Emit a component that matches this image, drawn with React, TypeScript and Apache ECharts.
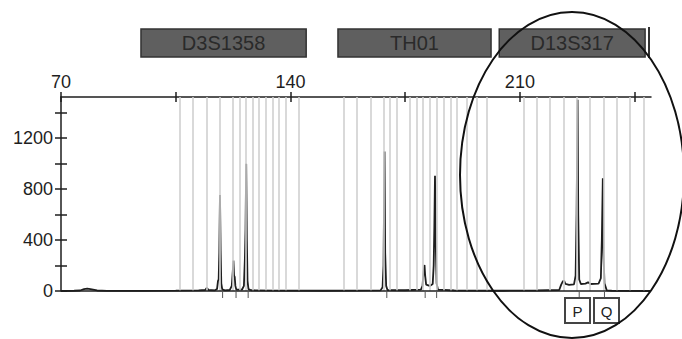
import React, { useEffect, useRef } from "react";
import * as echarts from "echarts";

// ---- data ----
const xTickValues = [70, 105, 140, 175, 210, 245];
const xLabelValues = [70, 140, 210];
const yTickValues = [0, 200, 400, 600, 800, 1000, 1200, 1400];
const yLabelValues = [0, 400, 800, 1200];

// electropherogram trace: [size (bp), signal (RFU)]
const trace: [number, number][] = [
  [70, 0], [74, 2], [75.8, 4], [77, 14], [78, 18], [79, 14], [81, 4], [84, 1],
  [95, 1], [105, 3], [112, 5], [114, 8], [114.5, 25], [115, 8], [117, 5],
  [117.6, 15], [117.9, 80], [118.1, 90], [118.3, 300], [118.5, 753], [118.7, 320], [118.9, 60], [119.2, 12], [120, 5], [121.5, 8],
  [122.1, 40], [122.4, 150], [122.6, 238], [122.8, 120], [123.0, 110], [123.2, 40], [123.5, 10], [125.2, 10],
  [125.8, 40], [126.1, 250], [126.3, 480], [126.5, 996], [126.7, 400], [126.9, 80], [127.2, 15], [128, 6],
  [135, 3], [150, 2], [160, 3], [167.5, 5],
  [168.1, 30], [168.4, 200], [168.7, 1093], [168.9, 300], [169.2, 40], [169.6, 8], [175, 6], [179.8, 10],
  [180.3, 40], [180.6, 150], [180.9, 204], [181.1, 120], [181.4, 50], [182.5, 40], [183.4, 55],
  [183.7, 200], [183.9, 500], [184.1, 902], [184.3, 400], [184.6, 60], [185, 10], [190, 4],
  [205, 2], [215, 4], [222, 8],
  [222.6, 50], [223.1, 75], [223.5, 80], [223.9, 55], [225, 48], [226.5, 52],
  [227.0, 120], [227.3, 600], [227.6, 1498], [227.8, 600], [228.1, 90], [228.6, 55],
  [230, 58], [230.8, 68], [231.5, 55], [234, 58],
  [234.7, 100], [235.0, 400], [235.3, 884], [235.5, 300], [235.8, 60], [236.5, 5], [238, 2], [250, 0],
];

// allele bin positions (bp)
const bins = [
  106.3, 110.3, 114.6, 118.5, 122.5, 124.6, 126.5, 128.6, 130.4, 132.6, 134.7, 136.5, 138.7, 142.6,
  156.4, 160.3, 164.6, 168.6, 170.4, 172.5, 176.5, 178.6, 180.5, 182.6, 184.7, 186.9, 189.0, 190.8, 193.9, 196.9, 200.0,
  211.1, 215.2, 219.2, 223.3, 227.4, 231.4, 235.5, 239.6, 243.6, 247.7,
];

// called peaks (bp) — tick marks below baseline
const calls = [119.3, 123.4, 127.1, 169.4, 181.1, 184.6, 228.1, 235.8];

// loci (marker panels) with bp ranges
const lociNames = ["D3S1358", "TH01", "D13S317"];
const lociStart = [94.4, 154.5, 203.7];
const lociEnd = [144.8, 201.2, 248.2];

// allele labels
const alleleLabels = ["P", "Q"];

const FONT = "'Liberation Sans', Arial, sans-serif";

export default function App() {
  const ref = useRef<HTMLDivElement>(null);

  useEffect(() => {
    if (!ref.current) return;
    const chart = echarts.init(ref.current, undefined, { renderer: "svg" });

    const axisColor = "#1e1e1e";
    const gridLeft = 61, gridTop = 97, gridRight = 31, gridBottom = 48;
    const gridW = 682 - gridLeft - gridRight;
    const gridH = 339 - gridTop - gridBottom;

    const xBase = {
      type: "value" as const,
      min: 70,
      max: 250,
      splitLine: { show: false },
    };
    const yBase = {
      type: "value" as const,
      min: 0,
      max: 1520,
      splitLine: { show: false },
    };
    const tickStyle = { color: axisColor, width: 1.5 };

    chart.setOption({
      animation: false,
      grid: { left: gridLeft, top: gridTop, right: gridRight, bottom: gridBottom, containLabel: false },
      xAxis: [
        {
          ...xBase,
          position: "top",
          axisLine: { show: true, onZero: false, lineStyle: { color: axisColor, width: 1.5 } },
          axisTick: { show: true, customValues: xTickValues, length: 5, inside: false, lineStyle: tickStyle },
          axisLabel: {
            show: true, customValues: xLabelValues, fontSize: 18, color: "#1e1e1e", fontFamily: FONT, margin: 6,
            formatter: (v: number) => String(v),
          },
        },
        {
          ...xBase,
          position: "bottom",
          offset: -gridH,
          axisLine: { show: false, onZero: false },
          axisTick: { show: true, customValues: xTickValues, length: 5, inside: false, lineStyle: tickStyle },
          axisLabel: { show: false },
        },
      ],
      yAxis: [
        {
          ...yBase,
          position: "left",
          axisLine: { show: true, onZero: false, lineStyle: { color: axisColor, width: 1.5 } },
          axisTick: { show: true, customValues: yTickValues, length: 6, inside: false, lineStyle: tickStyle },
          axisLabel: {
            show: true, customValues: yLabelValues, fontSize: 18, color: "#1e1e1e", fontFamily: FONT, margin: 8,
            formatter: (v: number) => String(v),
          },
        },
        {
          ...yBase,
          position: "right",
          offset: -gridW,
          axisLine: { show: false, onZero: false },
          axisTick: { show: true, customValues: yTickValues, length: 6, inside: false, lineStyle: tickStyle },
          axisLabel: { show: false },
        },
      ],
      series: [
        {
          type: "line",
          xAxisIndex: 0,
          yAxisIndex: 0,
          data: [],
          z: 1,
          silent: true,
          markLine: {
            silent: true,
            symbol: "none",
            label: { show: false },
            lineStyle: { color: "#d0d0d0", width: 1.6, type: "solid" },
            data: bins.map((b) => ({ xAxis: b })),
          },
        },
        {
          type: "line",
          xAxisIndex: 0,
          yAxisIndex: 0,
          data: [],
          z: 2,
          silent: true,
          markLine: {
            silent: true,
            symbol: "none",
            label: { show: false },
            lineStyle: { color: axisColor, width: 1.5, type: "solid" },
            data: [{ yAxis: 0 }],
          },
        },
        {
          type: "line",
          xAxisIndex: 0,
          yAxisIndex: 0,
          data: trace,
          showSymbol: false,
          z: 3,
          lineStyle: { color: "#1e1e1e", width: 1.8 },
        },
      ],
    });

    const px = (bp: number, v: number) =>
      chart.convertToPixel({ xAxisIndex: 0, yAxisIndex: 0 }, [bp, v]) as number[];

    const graphics: any[] = [];

    // locus panels
    lociNames.forEach((name, i) => {
      const x0 = px(lociStart[i], 0)[0];
      const x1 = px(lociEnd[i], 0)[0];
      graphics.push({
        type: "rect",
        shape: { x: x0, y: 29, width: x1 - x0, height: 28 },
        style: { fill: "#5f5f5f", stroke: "#333333", lineWidth: 1.5 },
        z: 10,
      });
      graphics.push({
        type: "text",
        x: (x0 + x1) / 2,
        y: 43,
        style: {
          text: name,
          fill: "#2a2a2a",
          font: `20px ${FONT}`,
          textAlign: "center",
          textVerticalAlign: "middle",
        },
        z: 11,
      });
    });
    // start of next panel
    graphics.push({
      type: "rect",
      shape: { x: 648, y: 27, width: 2, height: 31 },
      style: { fill: "#333333" },
      z: 10,
    });

    // call ticks below baseline
    calls.forEach((c) => {
      const [x, y] = px(c, 0);
      graphics.push({
        type: "line",
        shape: { x1: x, y1: y, x2: x, y2: y + 7 },
        style: { stroke: "#555555", lineWidth: 1 },
        z: 10,
      });
    });

    // allele label boxes
    const boxLeft = [565, 594];
    alleleLabels.forEach((lab, i) => {
      graphics.push({
        type: "rect",
        shape: { x: boxLeft[i], y: 298, width: 25, height: 25 },
        style: { fill: "#ffffff", stroke: "#444444", lineWidth: 2 },
        z: 12,
      });
      graphics.push({
        type: "text",
        x: boxLeft[i] + 12.5,
        y: 311,
        style: {
          text: lab,
          fill: "#222222",
          font: `15px ${FONT}`,
          textAlign: "center",
          textVerticalAlign: "middle",
        },
        z: 13,
      });
    });

    // highlight ellipse
    graphics.push({
      type: "ellipse",
      shape: { cx: 572, cy: 175, rx: 112, ry: 163 },
      style: { fill: "none", stroke: "#111111", lineWidth: 2 },
      z: 20,
    });

    chart.setOption({ graphic: graphics });

    return () => chart.dispose();
  }, []);

  return (
    <div
      ref={ref}
      style={{ position: "fixed", left: 0, top: 0, width: 682, height: 339, background: "#ffffff" }}
    />
  );
}
